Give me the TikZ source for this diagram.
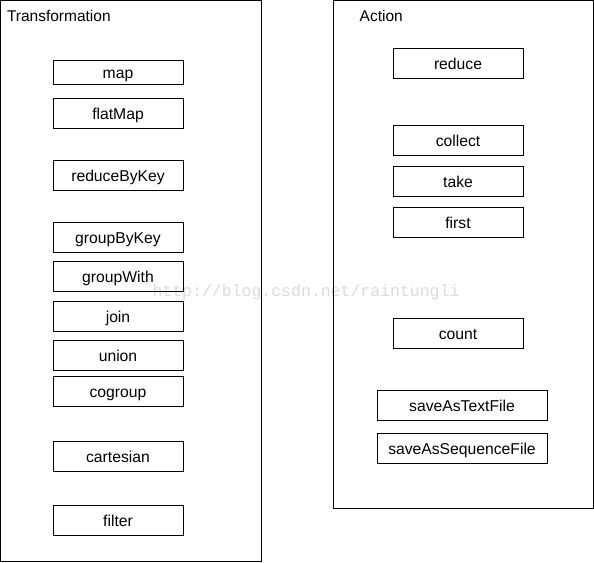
\documentclass[tikz,border=0pt]{standalone}
\usepackage{fontspec}
\setmainfont{Liberation Sans}
\newfontfamily\wmfont{Liberation Mono}
\begin{document}
\begin{tikzpicture}[x=1pt,y=-1pt,
  opbox/.style={draw=black,line width=0.9pt,minimum height=30pt,inner sep=0pt,
    font=\fontsize{15.7}{18}\selectfont},
  narrow/.style={opbox,minimum width=130pt},
  wide/.style={opbox,minimum width=170pt},
  lbl/.style={inner sep=0pt,text height=0.72em,text depth=0pt,font=\fontsize{15.7}{18}\selectfont},
  group/.style={draw=black,line width=0.9pt},
  title/.style={anchor=base west,inner sep=0pt,font=\fontsize{15.5}{18}\selectfont}]
\useasboundingbox (0,0) rectangle (594,562);
\fill[white] (0,0) rectangle (594,562);
% watermark
\node[text=black!14,font=\wmfont\fontsize{16.5}{18}\selectfont,inner sep=0pt] (wm) at (306,292) {http://blog.csdn.net/raintungli};
% groups
\draw[group] (0.5,0.5) rectangle (261,561);
\draw[group] (333,0.5) rectangle (593,508.5);
\node[title] (ttrans) at (6.8,21) {Transformation};
\node[title] (tact) at (359.5,21) {Action};
% left column
\node[narrow,minimum height=24pt] (map) at (118,72.5) {};
\node[narrow] (flatMap) at (118,113.3) {};
\node[narrow] (reduceByKey) at (118,175.3) {};
\node[narrow] (groupByKey) at (118,237.3) {};
\node[narrow] (groupWith) at (118,276.3) {};
\node[narrow] (join) at (118,316.3) {};
\node[narrow] (union) at (118,355.3) {};
\node[narrow] (cogroup) at (118,391.3) {};
\node[narrow] (cartesian) at (118,456.3) {};
\node[narrow] (filter) at (118,520.3) {};
% right column
\node[narrow] (reduce) at (458,63.3) {};
\node[narrow] (collect) at (458,140.3) {};
\node[narrow] (take) at (458,181.3) {};
\node[narrow] (first) at (458,222.3) {};
\node[narrow] (count) at (458,333.3) {};
\node[wide] (saveText) at (462,405.3) {};
\node[wide] (saveSeq) at (462,448.3) {};
% labels
\foreach \n/\t in {map/map,flatMap/flatMap,reduceByKey/reduceByKey,groupByKey/groupByKey,
  groupWith/groupWith,join/join,union/union,cogroup/cogroup,cartesian/cartesian,filter/filter,
  reduce/reduce,collect/collect,take/take,first/first,count/count,
  saveText/saveAsTextFile,saveSeq/saveAsSequenceFile}
  \node[lbl,yshift=-2.3pt] (\n-t) at (\n.center) {\t};
\end{tikzpicture}
\end{document}
